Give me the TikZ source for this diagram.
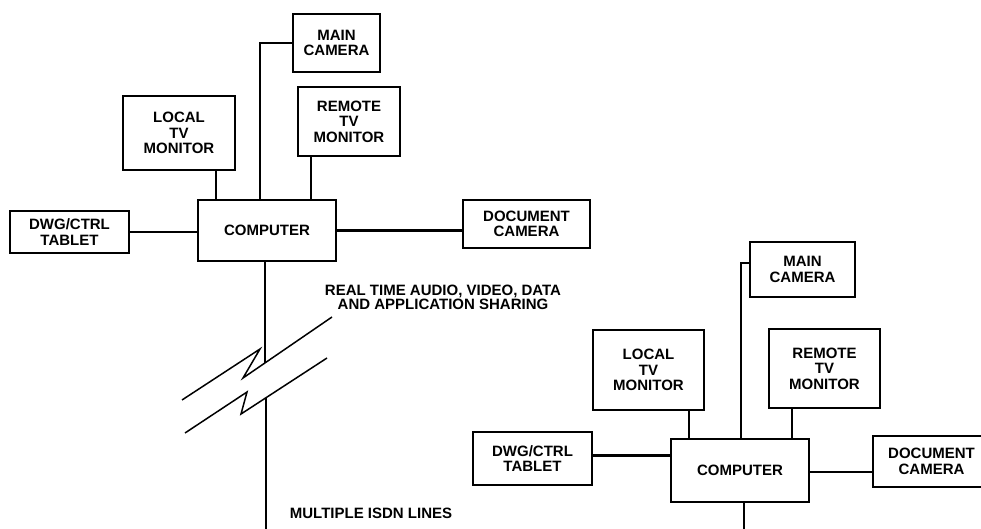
\documentclass[tikz,border=0pt]{standalone}
\usepackage{fontspec}
\setmainfont{Liberation Sans}

\tikzset{
  unit/.style={draw, line width=2.4pt, align=center, inner sep=0pt,
    font=\fontsize{15}{15.5}\selectfont\bfseries},
  wire/.style={line width=2.5pt},
  thinwire/.style={line width=1.4pt},
  breakline/.style={line width=1.5pt, line join=miter},
  note/.style={align=center, inner sep=0pt,
    font=\fontsize{15}{14}\selectfont\bfseries},
}

\begin{document}
\begin{tikzpicture}[x=1pt, y=-1pt]
\useasboundingbox (0,0) rectangle (981,529);
% local site
\node[unit, minimum width=87pt, minimum height=58pt] (lmain) at (336.5,43) {MAIN\\CAMERA};
\node[unit, minimum width=112pt, minimum height=74pt] (llocal) at (179,133) {LOCAL\\TV\\MONITOR};
\node[unit, minimum width=102pt, minimum height=69pt] (lremote) at (349,121.5) {REMOTE\\TV\\MONITOR};
\node[unit, minimum width=138pt, minimum height=61pt] (lcomp) at (267,230.5) {COMPUTER};
\node[unit, minimum width=119pt, minimum height=42pt] (ltablet) at (69.5,232) {DWG/CTRL\\TABLET};
\node[unit, minimum width=127pt, minimum height=48pt] (ldoc) at (526.5,224) {DOCUMENT\\CAMERA};
\draw[wire] (ltablet.east) -- (ltablet.east -| lcomp.west);
\draw[wire] (lcomp.east) -- (lcomp.east -| ldoc.west);
\draw[wire] ([xshift=37pt]llocal.south) -- ([xshift=37pt]llocal.south |- lcomp.north);
\draw[wire] ([xshift=-38pt]lremote.south) -- ([xshift=-38pt]lremote.south |- lcomp.north);
\draw[thinwire] ([xshift=-7pt]lcomp.north) |- (lmain.west);
% remote site
\node[unit, minimum width=105pt, minimum height=55pt] (rmain) at (802.5,269.5) {MAIN\\CAMERA};
\node[unit, minimum width=111pt, minimum height=80pt] (rlocal) at (648.5,370) {LOCAL\\TV\\MONITOR};
\node[unit, minimum width=111pt, minimum height=79pt] (rremote) at (824.5,368.5) {REMOTE\\TV\\MONITOR};
\node[unit, minimum width=138pt, minimum height=63pt] (rcomp) at (740,470.5) {COMPUTER};
\node[unit, minimum width=119pt, minimum height=53pt] (rtablet) at (532.5,458.5) {DWG/CTRL\\TABLET};
\node[unit, minimum width=117pt, minimum height=51pt] (rdoc) at (931.5,461.5) {DOCUMENT\\CAMERA};
\draw[wire] ([yshift=3pt]rtablet.east) -- ([yshift=3pt]rtablet.east -| rcomp.west);
\draw[wire] ([yshift=-1.5pt]rcomp.east) -- ([yshift=-1.5pt]rcomp.east -| rdoc.west);
\draw[wire, line width=1.8pt] ([xshift=40.5pt]rlocal.south) -- ([xshift=40.5pt]rlocal.south |- rcomp.north);
\draw[wire] ([xshift=-32.5pt]rremote.south) -- ([xshift=-32.5pt]rremote.south |- rcomp.north);
\draw[thinwire] ([xshift=1pt]rcomp.north) |- ([yshift=6.5pt]rmain.west);
% ISDN link with break
\coordinate (cutA) at (265,363);
\coordinate (cutB) at (266,398);
\coordinate (lend) at (266,529);
\coordinate (rend) at (744,529);
\draw[wire] ([xshift=-2pt]lcomp.south) -- (cutA);
\draw[wire, line width=1.8pt] (cutB) -- (lend);
\draw[wire] ([xshift=4pt]rcomp.south) -- (rend);
\draw[breakline] (182,400) -- (260,349) -- (243,378) -- (332,317); % upper cut
\draw[breakline] (185,433) -- (247,392) -- (241,414) -- (327,358); % lower cut
\node[note] (share) at (443,297.5) {REAL TIME AUDIO, VIDEO, DATA\\AND APPLICATION SHARING};
\node[note] (isdn) at (371,513) {MULTIPLE ISDN LINES};
\end{tikzpicture}
\end{document}
